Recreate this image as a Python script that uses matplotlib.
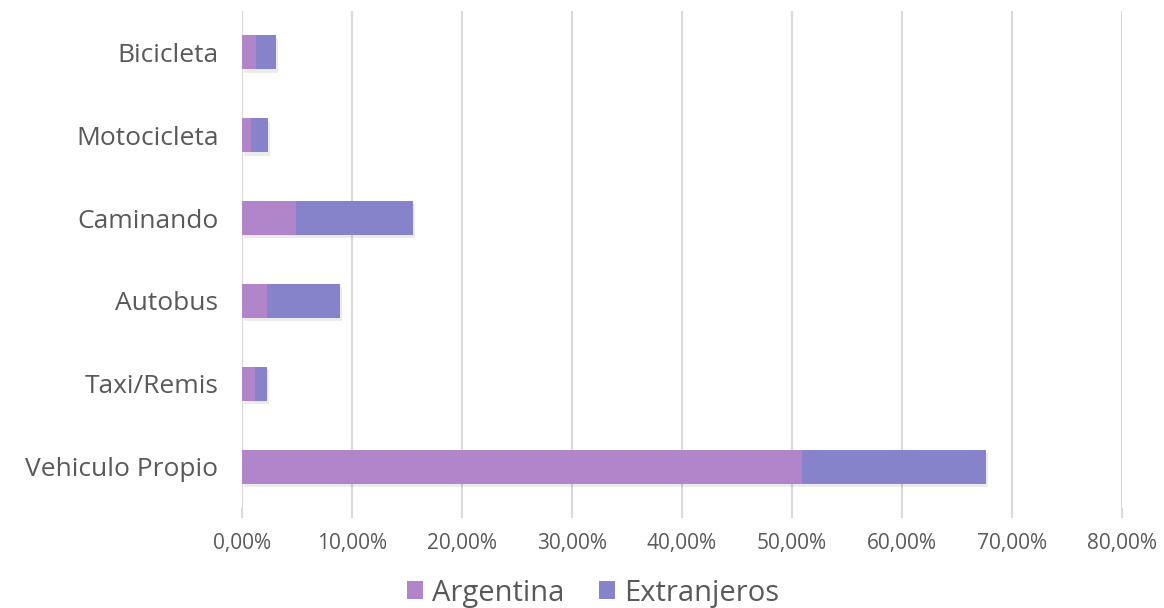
import numpy as np
import matplotlib.pyplot as plt
from matplotlib.ticker import FuncFormatter

categorias = ['Vehiculo Propio', 'Taxi/Remis', 'Autobus', 'Caminando', 'Motocicleta', 'Bicicleta']
argentina = [0.509, 0.0118, 0.0227, 0.0488, 0.0082, 0.0127]
extranjeros = [0.167, 0.0109, 0.0664, 0.1067, 0.0152, 0.0179]
ticks_x = [0, 0.1, 0.2, 0.3, 0.4, 0.5, 0.6, 0.7, 0.8]

col_arg = '#b185c9'
col_ext = '#8683ca'
gris = '#595959'

fig = plt.figure(figsize=(11.64, 6.08), dpi=100)
ax = fig.add_axes([242 / 1164, 1 - 508 / 608, 880 / 1164, 497 / 608])

y = np.arange(len(categorias))
alto = 0.41
# sombra suave como en el original
ax.barh(y - 0.04, np.array(argentina) + np.array(extranjeros), alto, left=0.002,
        color='#000000', alpha=0.08, zorder=2)
ax.barh(y, argentina, alto, color=col_arg, label='Argentina', zorder=3)
ax.barh(y, extranjeros, alto, left=argentina, color=col_ext, label='Extranjeros', zorder=3)

ax.set_xlim(0, 0.8)
ax.set_ylim(-0.5, len(categorias) - 0.5)
ax.set_xticks(ticks_x)
ax.xaxis.set_major_formatter(FuncFormatter(lambda v, p: ('%.2f%%' % (v * 100)).replace('.', ',')))
ax.set_yticks(y)
ax.set_yticklabels(categorias)
ax.grid(axis='x', color='#d9d9d9', linewidth=1.5, zorder=0)
for s in ax.spines.values():
    s.set_visible(False)
ax.tick_params(axis='x', colors='#d9d9d9', length=7, width=1.5, pad=11, labelcolor=gris, labelsize=15)
ax.tick_params(axis='y', length=0, pad=17, labelcolor=gris, labelsize=19)
for t in ax.get_xticklabels():
    t.set_family('Open Sans')
for t in ax.get_yticklabels():
    t.set_family('Open Sans')

leg = fig.legend(loc='center', bbox_to_anchor=(593 / 1164, 1 - 593 / 608), ncol=2, frameon=False,
                 prop={'family': 'Open Sans', 'size': 21},
                 handlelength=0.55, handleheight=0.55, handletextpad=0.3, columnspacing=1.2)
for t in leg.get_texts():
    t.set_color(gris)

fig.savefig('out.png', dpi=100)
